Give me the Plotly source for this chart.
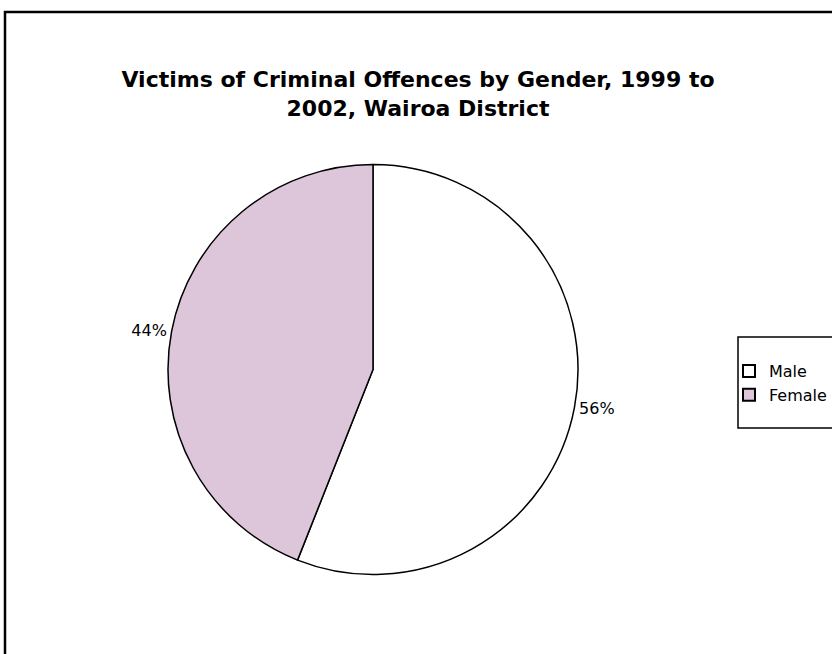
import plotly.graph_objects as go

labels = ["Male", "Female"]
values = [56, 44]
colors = ["#FFFFFF", "#DDC5DA"]
title_text = "Victims of Criminal Offences by Gender, 1999 to<br>2002, Wairoa District"

W, H = 832, 654
FONT = "DejaVu Sans, Liberation Sans, Arial"
fig = go.Figure()
fig.add_trace(go.Pie(
    labels=labels, values=values, sort=False, direction="clockwise", rotation=0,
    marker=dict(colors=colors, line=dict(color="black", width=1.5)),
    textinfo="percent", texttemplate="%{percent:.0%}", textposition="outside",
    textfont=dict(family=FONT, size=16, color="black"),
    domain=dict(x=[168/W, 578/W], y=[79.5/H, 489.5/H]),
    automargin=False, showlegend=True, hoverinfo="label+percent",
))
fig.update_layout(
    width=W, height=H, margin=dict(l=0, r=0, t=0, b=0),
    paper_bgcolor="white", plot_bgcolor="white",
    title=dict(text="<b>" + title_text + "</b>", x=418/W, xanchor="center",
               y=1-87/H, yanchor="top",
               font=dict(family=FONT, size=22, color="black")),
    legend=dict(x=729/W, xanchor="left", y=1-383/H, yanchor="middle",
                borderwidth=0, bgcolor="rgba(0,0,0,0)",
                font=dict(family=FONT, size=16, color="black"),
                itemsizing="constant"),
    shapes=[
        dict(type="rect", xref="paper", yref="paper",
             x0=5/W, x1=1.05, y0=-0.05, y1=1-12/H,
             line=dict(color="black", width=2.5)),
        dict(type="rect", xref="paper", yref="paper",
             x0=738/W, x1=1.05, y0=1-428/H, y1=1-337/H,
             line=dict(color="black", width=1.5)),
    ],
)
fig.write_html("out.html", config={"displayModeBar": False},
               post_script="document.body.style.margin='0';")
